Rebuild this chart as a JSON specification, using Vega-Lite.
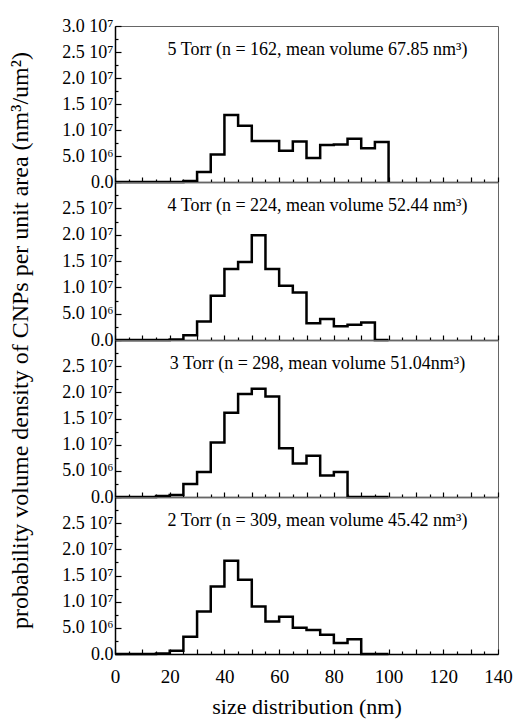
{
  "$schema": "https://vega.github.io/schema/vega-lite/v6.json",
  "background": "white",
  "padding": {"left": 8, "top": 16, "right": 8, "bottom": 4},
  "bounds": "flush",
  "spacing": 0,
  "config": {
    "font": "Liberation Serif",
    "view": {"stroke": "#666666", "strokeWidth": 1},
    "axis": {
      "grid": false,
      "domainColor": "black",
      "domainWidth": 1.5,
      "tickColor": "black",
      "tickWidth": 1.2,
      "tickCount": 200,
      "labelColor": "black",
      "titleColor": "black",
      "labelFont": "Liberation Serif",
      "titleFont": "Liberation Serif",
      "titleFontWeight": "normal",
      "labelOverlap": false,
      "labelFlush": false,
      "labelBound": false
    }
  },
  "datasets": {
    "hist": [
      {"panel": "5", "size": 0, "density": 0}, {"panel": "5", "size": 5, "density": 0}, {"panel": "5", "size": 10, "density": 0}, {"panel": "5", "size": 15, "density": 0}, {"panel": "5", "size": 20, "density": 0}, {"panel": "5", "size": 25, "density": 200000}, {"panel": "5", "size": 30, "density": 1900000}, {"panel": "5", "size": 35, "density": 5300000}, {"panel": "5", "size": 40, "density": 12900000}, {"panel": "5", "size": 45, "density": 10800000}, {"panel": "5", "size": 50, "density": 7900000}, {"panel": "5", "size": 55, "density": 7900000}, {"panel": "5", "size": 60, "density": 6000000}, {"panel": "5", "size": 65, "density": 7800000}, {"panel": "5", "size": 70, "density": 4600000}, {"panel": "5", "size": 75, "density": 7100000}, {"panel": "5", "size": 80, "density": 7200000}, {"panel": "5", "size": 85, "density": 8300000}, {"panel": "5", "size": 90, "density": 6500000}, {"panel": "5", "size": 95, "density": 7700000}, {"panel": "5", "size": 100, "density": 0},
      {"panel": "4", "size": 0, "density": 0}, {"panel": "4", "size": 5, "density": 0}, {"panel": "4", "size": 10, "density": 0}, {"panel": "4", "size": 15, "density": 0}, {"panel": "4", "size": 20, "density": 100000}, {"panel": "4", "size": 25, "density": 900000}, {"panel": "4", "size": 30, "density": 3500000}, {"panel": "4", "size": 35, "density": 8400000}, {"panel": "4", "size": 40, "density": 13500000}, {"panel": "4", "size": 45, "density": 14800000}, {"panel": "4", "size": 50, "density": 19900000}, {"panel": "4", "size": 55, "density": 13500000}, {"panel": "4", "size": 60, "density": 10300000}, {"panel": "4", "size": 65, "density": 9000000}, {"panel": "4", "size": 70, "density": 3200000}, {"panel": "4", "size": 75, "density": 4000000}, {"panel": "4", "size": 80, "density": 2600000}, {"panel": "4", "size": 85, "density": 2900000}, {"panel": "4", "size": 90, "density": 3300000}, {"panel": "4", "size": 95, "density": 0}, {"panel": "4", "size": 100, "density": 0},
      {"panel": "3", "size": 0, "density": 0}, {"panel": "3", "size": 5, "density": 0}, {"panel": "3", "size": 10, "density": 0}, {"panel": "3", "size": 15, "density": 200000}, {"panel": "3", "size": 20, "density": 400000}, {"panel": "3", "size": 25, "density": 2500000}, {"panel": "3", "size": 30, "density": 4800000}, {"panel": "3", "size": 35, "density": 10400000}, {"panel": "3", "size": 40, "density": 16100000}, {"panel": "3", "size": 45, "density": 19700000}, {"panel": "3", "size": 50, "density": 20700000}, {"panel": "3", "size": 55, "density": 19200000}, {"panel": "3", "size": 60, "density": 9300000}, {"panel": "3", "size": 65, "density": 6400000}, {"panel": "3", "size": 70, "density": 7900000}, {"panel": "3", "size": 75, "density": 4100000}, {"panel": "3", "size": 80, "density": 4800000}, {"panel": "3", "size": 85, "density": 0}, {"panel": "3", "size": 90, "density": 0}, {"panel": "3", "size": 95, "density": 0}, {"panel": "3", "size": 100, "density": 0},
      {"panel": "2", "size": 0, "density": 0}, {"panel": "2", "size": 5, "density": 0}, {"panel": "2", "size": 10, "density": 0}, {"panel": "2", "size": 15, "density": 100000}, {"panel": "2", "size": 20, "density": 600000}, {"panel": "2", "size": 25, "density": 3300000}, {"panel": "2", "size": 30, "density": 8100000}, {"panel": "2", "size": 35, "density": 12900000}, {"panel": "2", "size": 40, "density": 17800000}, {"panel": "2", "size": 45, "density": 14200000}, {"panel": "2", "size": 50, "density": 9100000}, {"panel": "2", "size": 55, "density": 6200000}, {"panel": "2", "size": 60, "density": 7100000}, {"panel": "2", "size": 65, "density": 5000000}, {"panel": "2", "size": 70, "density": 4600000}, {"panel": "2", "size": 75, "density": 3700000}, {"panel": "2", "size": 80, "density": 2100000}, {"panel": "2", "size": 85, "density": 2800000}, {"panel": "2", "size": 90, "density": 0}, {"panel": "2", "size": 95, "density": 0}, {"panel": "2", "size": 100, "density": 0}
    ],
    "notes": [
      {"panel": "5", "label": "5 Torr (n = 162, mean volume 67.85 nm³)"},
      {"panel": "4", "label": "4 Torr (n = 224, mean volume 52.44 nm³)"},
      {"panel": "3", "label": "3 Torr (n = 298, mean volume 51.04nm³)"},
      {"panel": "2", "label": "2 Torr (n = 309, mean volume 45.42 nm³)"}
    ]
  },
  "vconcat": [
    {
      "width": 383, "height": 156,
      "layer": [
        {
          "data": {"name": "hist"},
          "transform": [{"filter": "datum.panel === '5'"}],
          "mark": {"type": "line", "interpolate": "step-after", "color": "black", "strokeWidth": 2.5},
          "encoding": {
            "x": {"field": "size", "type": "quantitative", "scale": {"domain": [0, 140], "nice": false},
              "axis": {"values": [0,5,10,15,20,25,30,35,40,45,50,55,60,65,70,75,80,85,90,95,100,105,110,115,120,125,130,135,140], "tickCount": 200, "labels": false, "title": null,
                "tickSize": {"condition": {"test": "datum.value % 10 === 0", "value": -5}, "value": -3}}},
            "y": {"field": "density", "type": "quantitative", "scale": {"domain": [0, 30000000], "nice": false},
              "axis": {"values": [0,2500000,5000000,7500000,10000000,12500000,15000000,17500000,20000000,22500000,25000000,27500000,30000000], "tickCount": 200,
                "labelExpr": "datum.value % 5000000 !== 0 ? '' : datum.value === 0 ? '0.0' : datum.value < 10000000 ? format(datum.value/1000000, '.1f') + ' 10⁶' : format(datum.value/10000000, '.1f') + ' 10⁷'",
                "tickSize": {"condition": {"test": "datum.value % 5000000 === 0", "value": -6}, "value": -3},
                "labelOverlap": false, "labelPadding": 8, "labelFontSize": 18, "title": null}}
          }
        },
        {
          "data": {"name": "notes"},
          "transform": [{"filter": "datum.panel === '5'"}],
          "mark": {"type": "text", "fontSize": 18, "font": "Liberation Serif", "align": "center", "baseline": "middle", "color": "black"},
          "encoding": {"x": {"datum": 74}, "y": {"datum": 25400000}, "text": {"field": "label"}}
        }
      ]
    },
    {
      "width": 383, "height": 158,
      "layer": [
        {
          "data": {"name": "hist"},
          "transform": [{"filter": "datum.panel === '4'"}],
          "mark": {"type": "line", "interpolate": "step-after", "color": "black", "strokeWidth": 2.5},
          "encoding": {
            "x": {"field": "size", "type": "quantitative", "scale": {"domain": [0, 140], "nice": false},
              "axis": {"values": [0,5,10,15,20,25,30,35,40,45,50,55,60,65,70,75,80,85,90,95,100,105,110,115,120,125,130,135,140], "tickCount": 200, "labels": false, "title": null,
                "tickSize": {"condition": {"test": "datum.value % 10 === 0", "value": -5}, "value": -3}}},
            "y": {"field": "density", "type": "quantitative", "scale": {"domain": [0, 30000000], "nice": false},
              "axis": {"values": [0,2500000,5000000,7500000,10000000,12500000,15000000,17500000,20000000,22500000,25000000,27500000], "tickCount": 200,
                "labelExpr": "datum.value % 5000000 !== 0 ? '' : datum.value === 0 ? '0.0' : datum.value < 10000000 ? format(datum.value/1000000, '.1f') + ' 10⁶' : format(datum.value/10000000, '.1f') + ' 10⁷'",
                "tickSize": {"condition": {"test": "datum.value % 5000000 === 0", "value": -6}, "value": -3},
                "labelOverlap": false, "labelPadding": 8, "labelFontSize": 18,
                "title": "probability volume density of CNPs per unit area (nm³/um²)",
                "titleFontSize": 24, "titleAnchor": "start", "titleAlign": "center", "titlePadding": 29}}
          }
        },
        {
          "data": {"name": "notes"},
          "transform": [{"filter": "datum.panel === '4'"}],
          "mark": {"type": "text", "fontSize": 18, "font": "Liberation Serif", "align": "center", "baseline": "middle", "color": "black"},
          "encoding": {"x": {"datum": 74}, "y": {"datum": 25400000}, "text": {"field": "label"}}
        }
      ]
    },
    {
      "width": 383, "height": 157,
      "layer": [
        {
          "data": {"name": "hist"},
          "transform": [{"filter": "datum.panel === '3'"}],
          "mark": {"type": "line", "interpolate": "step-after", "color": "black", "strokeWidth": 2.5},
          "encoding": {
            "x": {"field": "size", "type": "quantitative", "scale": {"domain": [0, 140], "nice": false},
              "axis": {"values": [0,5,10,15,20,25,30,35,40,45,50,55,60,65,70,75,80,85,90,95,100,105,110,115,120,125,130,135,140], "tickCount": 200, "labels": false, "title": null,
                "tickSize": {"condition": {"test": "datum.value % 10 === 0", "value": -5}, "value": -3}}},
            "y": {"field": "density", "type": "quantitative", "scale": {"domain": [0, 30000000], "nice": false},
              "axis": {"values": [0,2500000,5000000,7500000,10000000,12500000,15000000,17500000,20000000,22500000,25000000,27500000], "tickCount": 200,
                "labelExpr": "datum.value % 5000000 !== 0 ? '' : datum.value === 0 ? '0.0' : datum.value < 10000000 ? format(datum.value/1000000, '.1f') + ' 10⁶' : format(datum.value/10000000, '.1f') + ' 10⁷'",
                "tickSize": {"condition": {"test": "datum.value % 5000000 === 0", "value": -6}, "value": -3},
                "labelOverlap": false, "labelPadding": 8, "labelFontSize": 18, "title": null}}
          }
        },
        {
          "data": {"name": "notes"},
          "transform": [{"filter": "datum.panel === '3'"}],
          "mark": {"type": "text", "fontSize": 18, "font": "Liberation Serif", "align": "center", "baseline": "middle", "color": "black"},
          "encoding": {"x": {"datum": 74}, "y": {"datum": 25400000}, "text": {"field": "label"}}
        }
      ]
    },
    {
      "width": 383, "height": 157,
      "layer": [
        {
          "data": {"name": "hist"},
          "transform": [{"filter": "datum.panel === '2'"}],
          "mark": {"type": "line", "interpolate": "step-after", "color": "black", "strokeWidth": 2.5},
          "encoding": {
            "x": {"field": "size", "type": "quantitative", "scale": {"domain": [0, 140], "nice": false},
              "axis": {"values": [0,5,10,15,20,25,30,35,40,45,50,55,60,65,70,75,80,85,90,95,100,105,110,115,120,125,130,135,140], "tickCount": 200,
                "labelExpr": "datum.value % 20 === 0 ? format(datum.value, 'd') : ''",
                "tickSize": {"condition": {"test": "datum.value % 10 === 0", "value": -5}, "value": -3},
                "labelOverlap": false, "labelPadding": 18, "labelFontSize": 19,
                "title": "size distribution (nm)", "titleFontSize": 22, "titlePadding": 8}},
            "y": {"field": "density", "type": "quantitative", "scale": {"domain": [0, 30000000], "nice": false},
              "axis": {"values": [0,2500000,5000000,7500000,10000000,12500000,15000000,17500000,20000000,22500000,25000000,27500000], "tickCount": 200,
                "labelExpr": "datum.value % 5000000 !== 0 ? '' : datum.value === 0 ? '0.0' : datum.value < 10000000 ? format(datum.value/1000000, '.1f') + ' 10⁶' : format(datum.value/10000000, '.1f') + ' 10⁷'",
                "tickSize": {"condition": {"test": "datum.value % 5000000 === 0", "value": -6}, "value": -3},
                "labelOverlap": false, "labelPadding": 8, "labelFontSize": 18, "title": null}}
          }
        },
        {
          "data": {"name": "notes"},
          "transform": [{"filter": "datum.panel === '2'"}],
          "mark": {"type": "text", "fontSize": 18, "font": "Liberation Serif", "align": "center", "baseline": "middle", "color": "black"},
          "encoding": {"x": {"datum": 74}, "y": {"datum": 25400000}, "text": {"field": "label"}}
        }
      ]
    }
  ]
}
